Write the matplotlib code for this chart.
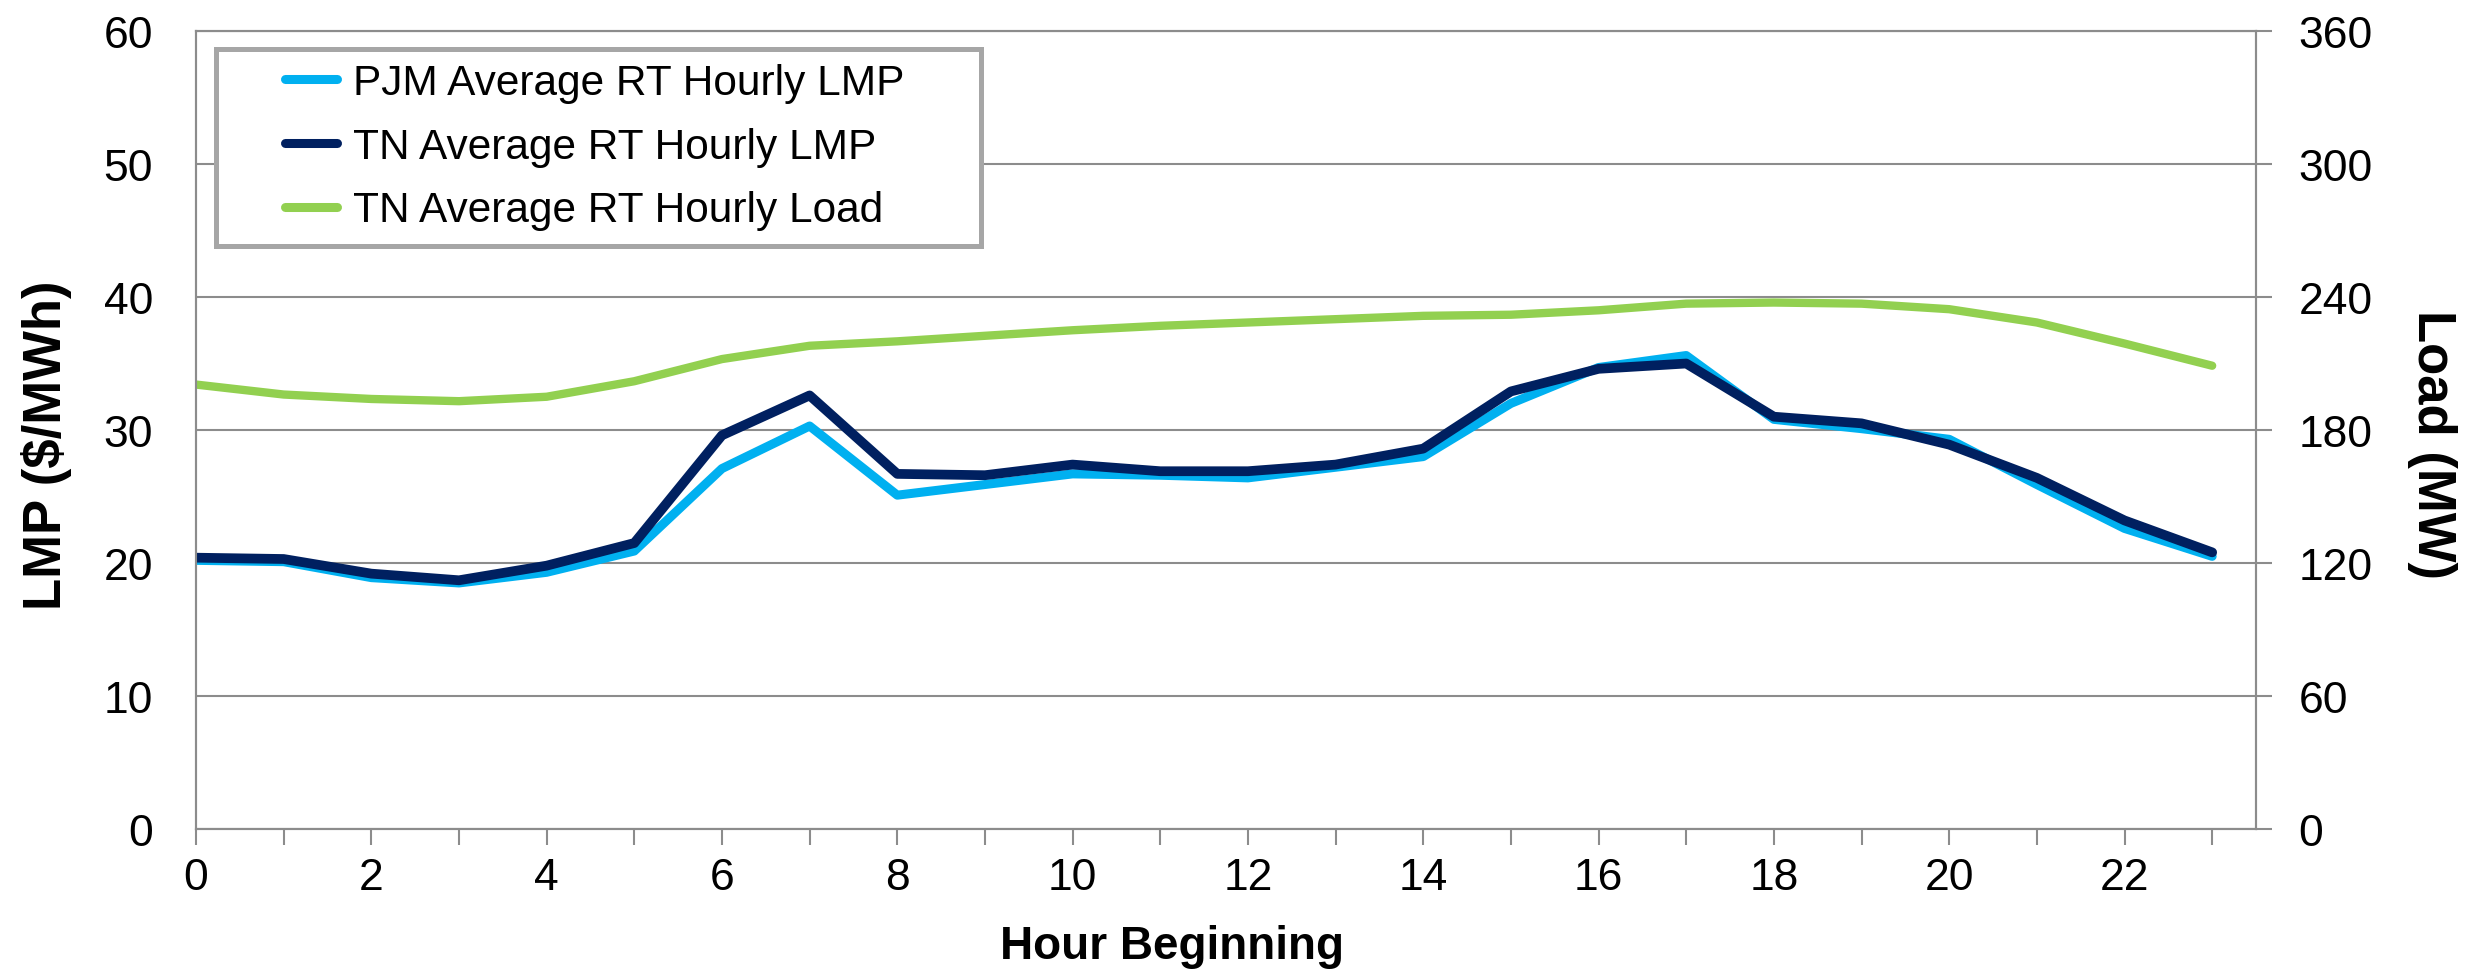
import matplotlib
matplotlib.use('Agg')
import matplotlib.pyplot as plt
from matplotlib import font_manager
from matplotlib.patches import Rectangle
from matplotlib.ticker import MultipleLocator

hours = list(range(24))
pjm_lmp = [20.2, 20.1, 18.9, 18.5, 19.3, 20.9, 27.1, 30.3, 25.1, 25.9, 26.7, 26.6,
           26.4, 27.2, 28.0, 32.0, 34.7, 35.6, 30.8, 30.1, 29.3, 25.9, 22.6, 20.5]
tn_lmp = [20.4, 20.3, 19.2, 18.7, 19.8, 21.5, 29.6, 32.6, 26.7, 26.6, 27.4, 26.9,
          26.9, 27.4, 28.6, 32.9, 34.6, 35.0, 31.0, 30.5, 28.9, 26.4, 23.2, 20.8]
tn_load = [200.5, 196, 194, 193, 195, 202, 212, 218, 220, 222.5, 225, 227,
           228.5, 230, 231.5, 232, 234, 237, 237.5, 237, 234.5, 228.5, 219, 209]

# Arial Narrow look-alike if present, plain Liberation Sans otherwise
names = {f.name for f in font_manager.fontManager.ttflist}
narrow = 'Liberation Sans Narrow' if 'Liberation Sans Narrow' in names else 'Liberation Sans'
tick_size = 35 if narrow == 'Liberation Sans Narrow' else 32
xlab_size = 38 if narrow == 'Liberation Sans Narrow' else 33

grey = '#8C8C8C'
W, H = 2466, 978

fig = plt.figure(figsize=(W / 100, H / 100), dpi=100)
ax = fig.add_axes([196 / W, (H - 830) / H, 2060 / W, 798 / H])
ax2 = ax.twinx()

ax.plot(hours, pjm_lmp, color='#00B0F0', lw=6.5, solid_capstyle='round', label='PJM Average RT Hourly LMP', zorder=3)
ax.plot(hours, tn_lmp, color='#002060', lw=7, solid_capstyle='round', label='TN Average RT Hourly LMP', zorder=4)
ax2.plot(hours, tn_load, color='#92D050', lw=6, solid_capstyle='round', label='TN Average RT Hourly Load')

ax.set_xlim(0, 23.5)
ax.set_ylim(0, 60)
ax2.set_ylim(0, 360)
ax.set_yticks(range(0, 61, 10))
ax2.set_yticks(range(0, 361, 60))
ax.xaxis.set_major_locator(MultipleLocator(2))
ax.xaxis.set_minor_locator(MultipleLocator(1))

ax.grid(axis='y', color=grey, lw=1.5)
ax.set_axisbelow(True)
for a in (ax, ax2):
    for s in a.spines.values():
        s.set_color(grey)
        s.set_linewidth(1.5)

ax.tick_params(axis='y', length=0, pad=31)
ax.tick_params(axis='x', which='both', direction='out', length=11.5, width=1.5, color=grey, pad=9)
ax2.tick_params(axis='y', direction='out', length=11.5, width=1.5, color=grey, pad=19)
for lab in ax.get_xticklabels() + ax.get_yticklabels() + ax2.get_yticklabels():
    lab.set_fontfamily(narrow)
    lab.set_fontsize(tick_size)

ax.set_xlabel('Hour Beginning', family=narrow, size=xlab_size, weight='bold')
ax.xaxis.set_label_coords(0.474, -0.146)
ax.xaxis.label.set_va('center')
ax.set_ylabel('LMP ($/MWh)', family='Liberation Sans', size=38, weight='bold')
ax.yaxis.set_label_coords(-0.0728, 0.4825)
ax.yaxis.label.set_va('center')
ax2.set_ylabel('Load (MW)', rotation=270, family='Liberation Sans', size=38, weight='bold')
ax2.yaxis.set_label_coords(1.0855, 0.4825)
ax2.yaxis.label.set_va('center')

# legend box
fig.patches.append(Rectangle((216 / W, 1 - 247 / H), (981 - 216) / W, (247 - 50) / H,
                             transform=fig.transFigure, facecolor='white',
                             edgecolor='#A6A6A6', lw=3.6, zorder=4))
handles = ax.get_lines() + ax2.get_lines()
leg = fig.legend(handles, [h.get_label() for h in handles], loc='upper left',
                 bbox_to_anchor=(285 / W, 1 - 64 / H), frameon=False, borderpad=0,
                 borderaxespad=0, prop={'family': 'Liberation Sans', 'size': 30.5},
                 handlelength=1.23, handletextpad=0.38, labelspacing=0.56)
for h in leg.get_lines():
    h.set_linewidth(6.5)
leg.set_zorder(5)

fig.savefig('out.png', dpi=100)
